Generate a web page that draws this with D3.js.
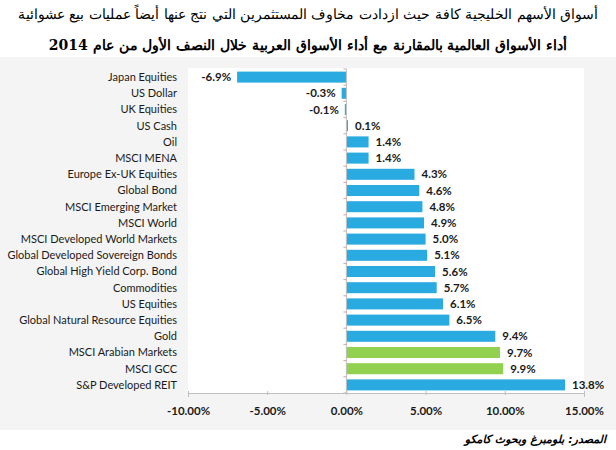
<!DOCTYPE html>
<html>
<head>
<meta charset="utf-8">
<script src="https://cdn.jsdelivr.net/npm/d3@7"></script>
<style>
  body { margin: 0; background: #fff; }
  svg { display: block; }
</style>
</head>
<body>
<div id="canvas"></div>
<script>
// Categories, top to bottom.
const categories = [
    "Japan Equities", "US Dollar", "UK Equities", "US Cash", "Oil", "MSCI MENA",
    "Europe Ex-UK Equities", "Global Bond", "MSCI Emerging Market", "MSCI World",
    "MSCI Developed World Markets", "Global Developed Sovereign Bonds",
    "Global High Yield Corp. Bond", "Commodities", "US Equities",
    "Global Natural Resource Equities", "Gold", "MSCI Arabian Markets", "MSCI GCC",
    "S&P Developed REIT"
];
// Return in the first half of 2014, percent.
const values = [-6.9, -0.3, -0.1, 0.1, 1.4, 1.4, 4.3, 4.6, 4.8, 4.9, 5.0, 5.1, 5.6, 5.7, 6.1, 6.5, 9.4, 9.7, 9.9, 13.8];
// Arab market bars are drawn in green.
const highlighted = ["MSCI Arabian Markets", "MSCI GCC"];
const xTicks = [-10, -5, 0, 5, 10, 15];

const title1 = "أسواق الأسهم الخليجية كافة حيث ازدادت مخاوف المستثمرين التي نتج عنها أيضاً عمليات بيع عشوائية";
const title2 = "أداء الأسواق العالمية بالمقارنة مع أداء الأسواق العربية خلال النصف الأول من عام 2014";
const source = "المصدر: بلومبرغ وبحوث كامكو";

const w = 616, h = 450;
const plot = { left: 188, right: 584, top: 69, bottom: 393 };
const labelFont = "Lato, 'Open Sans', sans-serif";

const svg = d3.select("#canvas")
    .append("svg")
    .attr("width", w)
    .attr("height", h);

// Gray panel behind the chart, white plot area.
svg.append("rect")
    .attr("x", 0).attr("y", 57)
    .attr("width", w).attr("height", 373)
    .attr("fill", "#f4f4f4");
svg.append("rect")
    .attr("x", plot.left).attr("y", plot.top - 1)
    .attr("width", plot.right - plot.left).attr("height", plot.bottom - plot.top + 1)
    .attr("fill", "#ffffff");

const xScale = d3.scaleLinear()
    .domain([-10, 15])
    .range([plot.left, plot.right]);

const yScale = d3.scaleBand()
    .domain(categories)
    .range([plot.top, plot.bottom])
    .paddingInner(0.32)
    .paddingOuter(0.16);

// Bars.
svg.selectAll("rect.bar")
    .data(values)
    .enter()
    .append("rect")
    .attr("class", "bar")
    .attr("x", d => xScale(Math.min(0, d)))
    .attr("y", (d, i) => yScale(categories[i]))
    .attr("width", d => Math.max(1.5, Math.abs(xScale(d) - xScale(0))))
    .attr("height", yScale.bandwidth())
    .attr("fill", (d, i) => highlighted.includes(categories[i]) ? "#92d050" : "#29abe2");

// Zero line with small category ticks.
svg.append("line")
    .attr("x1", xScale(0)).attr("x2", xScale(0))
    .attr("y1", plot.top).attr("y2", plot.bottom)
    .attr("stroke", "#bfbfbf");
const step = yScale.step();
svg.selectAll("line.ytick")
    .data(d3.range(categories.length + 1))
    .enter()
    .append("line")
    .attr("class", "ytick")
    .attr("x1", xScale(0) - 3).attr("x2", xScale(0))
    .attr("y1", i => plot.top + i * step)
    .attr("y2", i => plot.top + i * step)
    .attr("stroke", "#c8a8a8");

// Value labels.
svg.selectAll("text.val")
    .data(values)
    .enter()
    .append("text")
    .attr("class", "val")
    .text(d => d.toFixed(1) + "%")
    .attr("x", d => d < 0 ? xScale(d) - 6 : xScale(d) + 7)
    .attr("y", (d, i) => yScale(categories[i]) + yScale.bandwidth() / 2)
    .attr("dy", "0.36em")
    .attr("text-anchor", d => d < 0 ? "end" : "start")
    .attr("fill", "#1a1a1a")
    .attr("font-family", labelFont)
    .attr("font-size", 11.5)
    .attr("font-weight", "bold");

// Category labels.
svg.selectAll("text.cat")
    .data(categories)
    .enter()
    .append("text")
    .attr("class", "cat")
    .text(d => d)
    .attr("x", 177)
    .attr("y", d => yScale(d) + yScale.bandwidth() / 2)
    .attr("dy", "0.36em")
    .attr("text-anchor", "end")
    .attr("fill", "#1a1a1a")
    .attr("font-family", labelFont)
    .attr("font-size", 11);

// Bottom axis.
const xAxis = d3.axisBottom(xScale)
    .tickValues(xTicks)
    .tickSize(4)
    .tickFormat(d => d.toFixed(2) + "%");
const gx = svg.append("g")
    .attr("transform", `translate(0,${plot.bottom})`)
    .call(xAxis);
gx.select(".domain").attr("stroke", "#bfbfbf");
gx.selectAll(".tick line").attr("stroke", "#bfbfbf").attr("y1", -2).attr("y2", 2);
gx.selectAll(".tick text")
    .attr("y", 14)
    .attr("fill", "#1a1a1a")
    .attr("font-family", labelFont)
    .attr("font-size", 11.5)
    .attr("font-weight", "bold");

// Titles and source, in Arabic.
svg.append("text")
    .text(title1)
    .attr("x", w / 2).attr("y", 19)
    .attr("text-anchor", "middle")
    .attr("direction", "rtl")
    .attr("font-family", "'DejaVu Serif', serif")
    .attr("font-size", 14)
    .attr("fill", "#000");

svg.append("text")
    .text(title2)
    .attr("x", w / 2).attr("y", 50)
    .attr("text-anchor", "middle")
    .attr("direction", "rtl")
    .attr("font-family", "'DejaVu Serif', serif")
    .attr("font-size", 14)
    .attr("font-weight", "bold")
    .attr("fill", "#000");

svg.append("text")
    .text(source)
    .attr("x", 606).attr("y", 443)
    .attr("text-anchor", "start")
    .attr("direction", "rtl")
    .attr("font-family", "'DejaVu Sans', sans-serif")
    .attr("font-size", 11)
    .attr("font-style", "italic")
    .attr("font-weight", "bold")
    .attr("fill", "#000");
</script>
</body>
</html>
